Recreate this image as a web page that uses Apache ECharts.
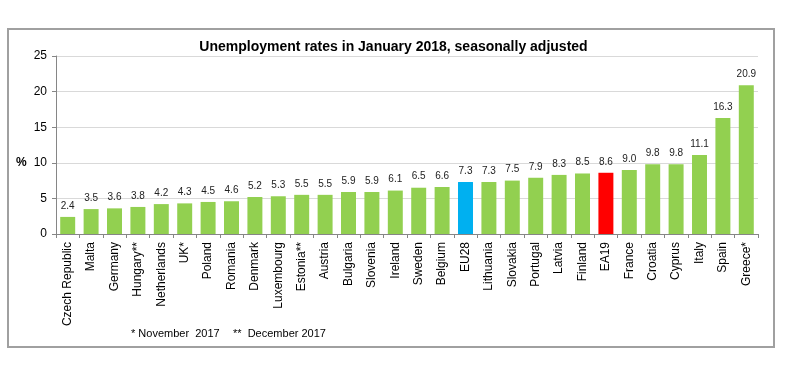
<!DOCTYPE html>
<html>
<head>
<meta charset="utf-8">
<script src="https://cdn.jsdelivr.net/npm/echarts@6/dist/echarts.min.js"></script>
<style>
  html, body { margin: 0; padding: 0; background: #fff; }
  #chart { width: 787px; height: 375px; }
</style>
</head>
<body>
<div id="chart"></div>
<script>
  // countries, ordered as in the picture
  var countries = ['Czech Republic', 'Malta', 'Germany', 'Hungary**', 'Netherlands', 'UK*', 'Poland', 'Romania',
    'Denmark', 'Luxembourg', 'Estonia**', 'Austria', 'Bulgaria', 'Slovenia', 'Ireland', 'Sweden', 'Belgium',
    'EU28', 'Lithuania', 'Slovakia', 'Portugal', 'Latvia', 'Finland', 'EA19', 'France', 'Croatia', 'Cyprus',
    'Italy', 'Spain', 'Greece*'];
  var rates = [2.4, 3.5, 3.6, 3.8, 4.2, 4.3, 4.5, 4.6, 5.2, 5.3, 5.5, 5.5, 5.9, 5.9, 6.1, 6.5, 6.6,
    7.3, 7.3, 7.5, 7.9, 8.3, 8.5, 8.6, 9.0, 9.8, 9.8, 11.1, 16.3, 20.9];
  var yTicks = [0, 5, 10, 15, 20, 25];

  var barColor = function (name) {
    if (name === 'EU28') return '#00b0f0';
    if (name === 'EA19') return '#ff0000';
    return '#92d050';
  };

  var font = 'Liberation Sans, Arial, sans-serif';
  var chart = echarts.init(document.getElementById('chart'));
  chart.setOption({
    animation: false,
    textStyle: { fontFamily: font },
    title: {
      text: 'Unemployment rates in January 2018, seasonally adjusted',
      left: 'center',
      top: 35,
      textStyle: { fontSize: 14, fontWeight: 'bold', color: '#000' }
    },
    grid: { left: 56, right: 29, top: 56, bottom: 141 },
    xAxis: {
      type: 'category',
      data: countries,
      axisLine: { lineStyle: { color: '#868686' } },
      axisTick: { show: true, length: 4, lineStyle: { color: '#868686' } },
      axisLabel: { rotate: 90, interval: 0, fontSize: 12, color: '#000', margin: 8 }
    },
    yAxis: {
      type: 'value',
      min: yTicks[0],
      max: yTicks[yTicks.length - 1],
      interval: 5,
      axisLine: { show: true, lineStyle: { color: '#868686' } },
      axisTick: { show: true, length: 4, lineStyle: { color: '#868686' } },
      axisLabel: { fontSize: 12, color: '#000', margin: 9 },
      splitLine: { lineStyle: { color: '#d9d9d9' } }
    },
    series: [{
      type: 'bar',
      barCategoryGap: '36%',
      data: countries.map(function (c, i) {
        return { value: rates[i], itemStyle: { color: barColor(c) } };
      }),
      label: {
        show: true,
        position: 'top',
        distance: 6,
        fontSize: 10,
        color: '#222',
        formatter: function (p) { return p.value.toFixed(1); }
      }
    }],
    graphic: [
      {
        type: 'rect',
        shape: { x: 8, y: 29, width: 766, height: 318 },
        style: { fill: null, stroke: '#a0a0a0', lineWidth: 2 },
        z: -1
      },
      {
        type: 'text',
        left: 16, top: 157,
        style: { text: '%', font: 'bold 12px ' + font, fill: '#000' }
      },
      {
        type: 'text',
        left: 131, top: 328,
        style: { text: '* November  2017', font: '11px ' + font, fill: '#000' }
      },
      {
        type: 'text',
        left: 233, top: 328,
        style: { text: '**  December 2017', font: '11px ' + font, fill: '#000' }
      }
    ]
  });
</script>
</body>
</html>
